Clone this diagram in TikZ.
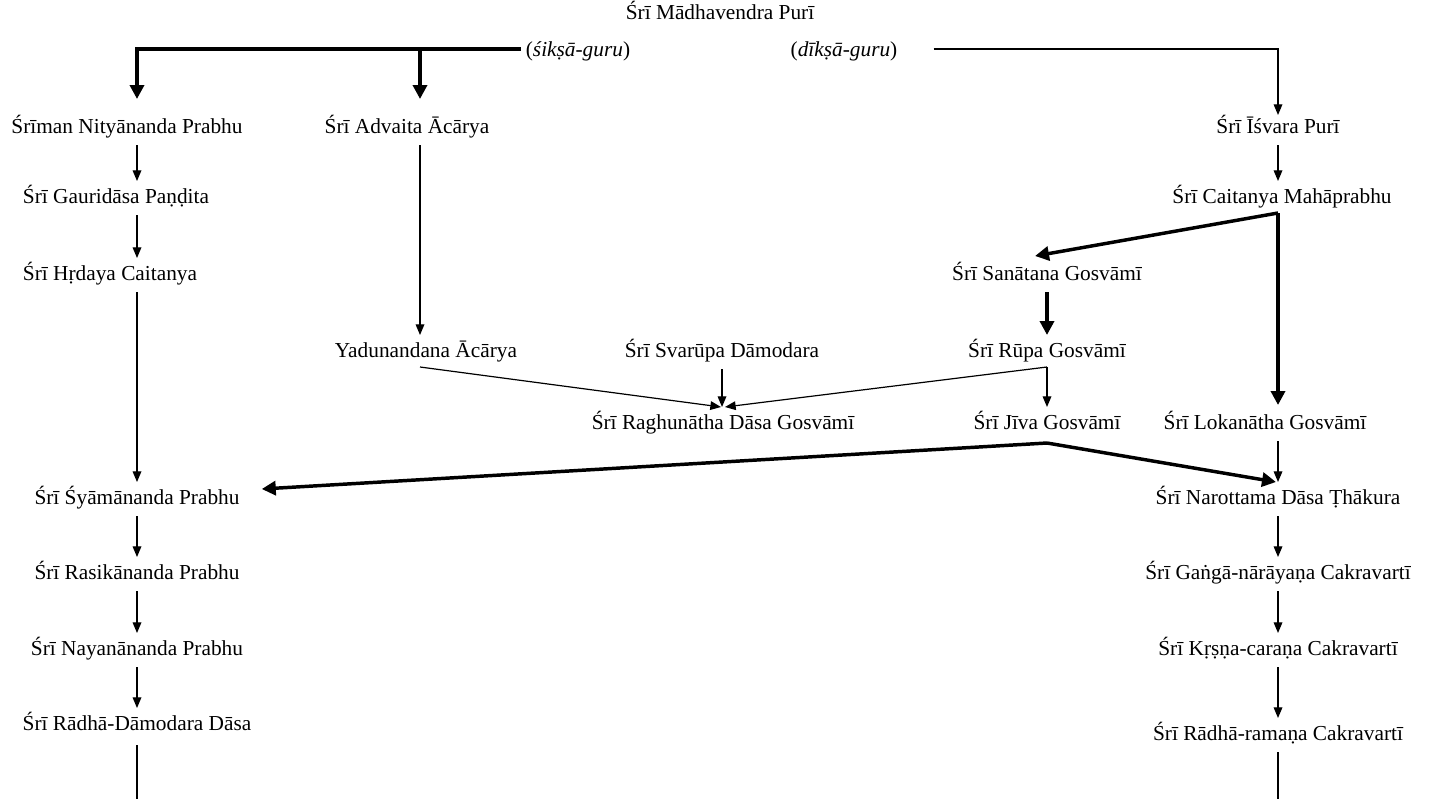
\documentclass[tikz,border=0pt]{standalone}
\usepackage{fontspec}
\setmainfont{Liberation Serif}
\usetikzlibrary{arrows.meta,calc}
\begin{document}
\begin{tikzpicture}[x=0.75pt,y=-0.75pt,
  pname/.style={inner sep=0pt,text height=11pt,text depth=3.5pt,font=\fontsize{16}{18}\selectfont},
  tarr/.style={line width=0.9pt,-{Triangle[length=8pt,width=6.5pt]},shorten <=12.75pt,shorten >=12.75pt},
  tline/.style={line width=0.9pt},
  karr/.style={line width=2.6pt,-{Triangle[length=10.5pt,width=10.5pt]}},
  karrs/.style={karr,shorten <=12.75pt,shorten >=12.75pt}]
\useasboundingbox (0,0) rectangle (1433,799);
% columns
\coordinate (L) at (137,0);
\coordinate (A) at (420,0);
\coordinate (S) at (722,0);
\coordinate (J) at (1047,0);
\coordinate (R) at (1278,0);
% nodes
\node[pname] (mad) at (720,15) {Śrī Mādhavendra Purī};
\node[pname] (siksa) at (578,51) {(\textit{śikṣā-guru})};
\node[pname] (diksa) at (844,51) {(\textit{dīkṣā-guru})};
\node[pname] (nit) at (127,128) {Śrīman Nityānanda Prabhu};
\node[pname] (adv) at (407,128) {Śrī Advaita Ācārya};
\node[pname] (isv) at (1278,128) {Śrī Īśvara Purī};
\node[pname] (gau) at (116,198) {Śrī Gauridāsa Paṇḍita};
\node[pname] (cai) at (1282,198) {Śrī Caitanya Mahāprabhu};
\node[pname] (hrd) at (110,275) {Śrī Hṛdaya Caitanya};
\node[pname] (san) at (1047,275) {Śrī Sanātana Gosvāmī};
\node[pname] (yad) at (426,352) {Yadunandana Ācārya};
\node[pname] (sva) at (722,352) {Śrī Svarūpa Dāmodara};
\node[pname] (rup) at (1047,352) {Śrī Rūpa Gosvāmī};
\node[pname] (rag) at (723,424) {Śrī Raghunātha Dāsa Gosvāmī};
\node[pname] (jiv) at (1047,424) {Śrī Jīva Gosvāmī};
\node[pname] (lok) at (1265,424) {Śrī Lokanātha Gosvāmī};
\node[pname] (sya) at (137,499) {Śrī Śyāmānanda Prabhu};
\node[pname] (nar) at (1278,499) {Śrī Narottama Dāsa Ṭhākura};
\node[pname] (ras) at (137,574) {Śrī Rasikānanda Prabhu};
\node[pname] (gan) at (1278,574) {Śrī Gaṅgā-nārāyaṇa Cakravartī};
\node[pname] (nay) at (137,650) {Śrī Nayanānanda Prabhu};
\node[pname] (krs) at (1278,650) {Śrī Kṛṣṇa-caraṇa Cakravartī};
\node[pname] (rdd) at (137,725) {Śrī Rādhā-Dāmodara Dāsa};
\node[pname] (rrm) at (1278,735) {Śrī Rādhā-ramaṇa Cakravartī};
\coordinate (tailL) at (137,799);
\coordinate (tailR) at (1278,799);
% top branches
\coordinate (busA) at ($(siksa.center -| A)+(0,-2)$);
\draw[karr] ($(siksa.west)+(-5,-2)$) -| ($(nit.center -| L)+(0,-29)$);
\draw[karr] (busA) -- ($(adv.center -| A)+(0,-29)$);
\draw[tarr,shorten <=0pt,shorten >=0pt] ($(diksa.east)+(36,-2)$) -| ($(isv.center -| R)+(0,-13)$);
% left column
\draw[tarr] (nit.center -| L) -- (gau.center -| L);
\draw[tarr] (gau.center -| L) -- (hrd.center -| L);
\draw[tarr] (hrd.center -| L) -- (sya.center -| L);
\draw[tarr] (sya.center -| L) -- (ras.center -| L);
\draw[tarr] (ras.center -| L) -- (nay.center -| L);
\draw[tarr] (nay.center -| L) -- (rdd.center -| L);
\draw[tline,shorten <=15pt] (rdd.center -| L) -- (tailL);
% advaita
\draw[tarr] (adv.center -| A) -- (yad.center -| A);
% right column
\draw[tarr] (isv.center -| R) -- (cai.center -| R);
\coordinate (caiS) at ($(cai.center -| R)+(0,15)$);
\draw[karr] (caiS) -- ($(san.center)+(-12,-19)$);
\draw[karr] (caiS) -- ($(lok.center -| R)+(0,-19)$);
\draw[karrs] (san.center -| J) -- (rup.center -| J);
\draw[tarr] (lok.center -| R) -- (nar.center -| R);
\draw[tarr] (nar.center -| R) -- (gan.center -| R);
\draw[tarr] (gan.center -| R) -- (krs.center -| R);
\draw[tarr] (krs.center -| R) -- (rrm.center -| R);
\draw[tline,shorten <=13pt] (rrm.center -| R) -- (tailR);
% middle
\draw[tarr,shorten >=0pt,shorten <=0pt] ($(yad.center -| A)+(0,15)$) -- ($(rag.center)+(-2,-17)$);
\draw[tarr] (sva.center -| S) -- (rag.center -| S);
\draw[tarr,shorten >=0pt,shorten <=0pt] ($(rup.center -| J)+(0,15)$) -- ($(rag.center)+(2,-17)$);
\draw[tarr,shorten <=11.25pt] (rup.center -| J) -- (jiv.center -| J);
\coordinate (jivS) at ($(jiv.center -| J)+(0,19)$);
\draw[karr] (jivS) -- ($(sya.east)+(22,-10)$);
\draw[karr] (jivS) -- ($(nar.center -| R)+(-2,-17)$);
\end{tikzpicture}
\end{document}
